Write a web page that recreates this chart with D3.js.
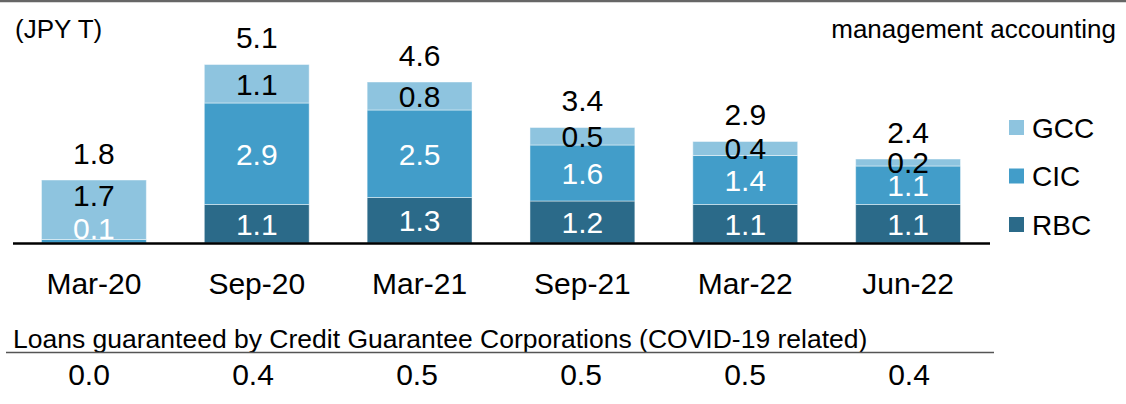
<!DOCTYPE html>
<html>
<head>
<meta charset="utf-8">
<script src="https://cdn.jsdelivr.net/npm/d3@7"></script>
<style>
  body { margin: 0; background: #fff; }
  svg text { font-family: Arial, "Liberation Sans", sans-serif; fill: #000; }
</style>
</head>
<body>
<div id="chart"></div>
<script>
// data
var periods = ["Mar-20", "Sep-20", "Mar-21", "Sep-21", "Mar-22", "Jun-22"];
var seriesNames = ["RBC", "CIC", "GCC"];
var rbc = [0, 1.1, 1.3, 1.2, 1.1, 1.1];
var cic = [0.1, 2.9, 2.5, 1.6, 1.4, 1.1];
var gcc = [1.7, 1.1, 0.8, 0.5, 0.4, 0.2];
var totals = [1.8, 5.1, 4.6, 3.4, 2.9, 2.4];
var guaranteed = [0.0, 0.4, 0.5, 0.5, 0.5, 0.4];

var svgWidth = 1126;
var svgHeight = 404;
var baseY = 243;

var colors = { RBC: "#2b6a89", CIC: "#429dc9", GCC: "#8ec4df" };
var labelColors = { RBC: "#fff", CIC: "#fff", GCC: "#000" };

var svg = d3.select("#chart")
  .append("svg")
  .attr("width", svgWidth)
  .attr("height", svgHeight);

var rows = periods.map(function(p, i) {
  return { period: p, RBC: rbc[i], CIC: cic[i], GCC: gcc[i], total: totals[i] };
});

var stack = d3.stack().keys(seriesNames)(rows);

var x = d3.scaleBand()
  .domain(periods)
  .range([12.5, 989.5])
  .paddingInner(0.356)
  .paddingOuter(0.178);

var y = d3.scaleLinear()
  .domain([0, 6])
  .range([baseY, baseY - 210]);

// top rule
svg.append("line")
  .attr("x1", 0).attr("x2", svgWidth)
  .attr("y1", 1).attr("y2", 1)
  .attr("stroke", "#666")
  .attr("stroke-width", 2.5);

svg.append("text")
  .attr("x", 15).attr("y", 38)
  .style("font-size", "26px")
  .text("(JPY T)");

svg.append("text")
  .attr("x", 1116).attr("y", 38)
  .attr("text-anchor", "end")
  .style("font-size", "26px")
  .text("management accounting");

// bars
var layers = svg.append("g").selectAll("g")
  .data(stack)
  .enter()
  .append("g")
  .attr("fill", d => colors[d.key]);

layers.selectAll("rect")
  .data(d => d)
  .enter()
  .append("rect")
  .attr("x", d => x(d.data.period))
  .attr("width", x.bandwidth())
  .attr("y", d => y(d[1]))
  .attr("height", d => y(d[0]) - y(d[1]))
  .attr("stroke", "rgba(255,255,255,0.45)")
  .attr("stroke-width", 1);

// segment labels: centred, kept inside the bar, pushed up when the one below had to move
var labelH = 33.5;
var segLabels = [];
periods.forEach(function(p, i) {
  var prevY = null, prevMoved = false;
  stack.forEach(function(layer) {
    var d = layer[i];
    var v = d[1] - d[0];
    if (v <= 0) return;
    var cy = (y(d[0]) + y(d[1])) / 2;
    var moved = false;
    if (cy > baseY - 14.5) { cy = baseY - 14.5; moved = true; }
    if (prevY !== null && prevMoved && prevY - cy < labelH) cy = prevY - labelH;
    segLabels.push({ x: x(p) + x.bandwidth() / 2, y: cy, key: layer.key, v: v });
    prevY = cy;
    prevMoved = moved;
  });
});

svg.append("g").selectAll("text")
  .data(segLabels)
  .enter()
  .append("text")
  .attr("x", d => d.x)
  .attr("y", d => d.y)
  .attr("dy", "0.36em")
  .attr("text-anchor", "middle")
  .style("font-size", "30px")
  .style("fill", d => labelColors[d.key])
  .text(d => d3.format(".1f")(d.v));

// totals
svg.append("g").selectAll("text")
  .data(rows)
  .enter()
  .append("text")
  .attr("x", d => x(d.period) + x.bandwidth() / 2)
  .attr("y", d => y(d.RBC + d.CIC + d.GCC) - 27)
  .attr("dy", "0.36em")
  .attr("text-anchor", "middle")
  .style("font-size", "30px")
  .text(d => d3.format(".1f")(d.total));

// x axis
var xAxis = svg.append("g")
  .attr("transform", `translate(0, ${baseY})`)
  .call(d3.axisBottom(x).tickSize(0).tickSizeOuter(0).tickPadding(29.5));

xAxis.select(".domain")
  .attr("stroke", "#000")
  .attr("stroke-width", 2.5);

xAxis.selectAll("text")
  .style("font-size", "30px")
  .style("font-family", "Arial, 'Liberation Sans', sans-serif")
  .attr("fill", "#000");

// legend
var legend = svg.append("g")
  .selectAll("g")
  .data(seriesNames.slice().reverse())
  .enter()
  .append("g")
  .attr("transform", (d, i) => `translate(1009, ${120 + i * 48.5})`);

legend.append("rect")
  .attr("width", 15)
  .attr("height", 15)
  .attr("fill", d => colors[d]);

legend.append("text")
  .attr("x", 23)
  .attr("y", 7.5)
  .attr("dy", "0.36em")
  .style("font-size", "28px")
  .text(d => d);

// table below
svg.append("text")
  .attr("x", 13).attr("y", 348)
  .style("font-size", "26.5px")
  .text("Loans guaranteed by Credit Guarantee Corporations (COVID-19 related)");

svg.append("line")
  .attr("x1", 6).attr("x2", 994)
  .attr("y1", 352.5).attr("y2", 352.5)
  .attr("stroke", "#555")
  .attr("stroke-width", 1.5);

var xTable = d3.scalePoint()
  .domain(periods)
  .range([89, 909]);

svg.append("g").selectAll("text")
  .data(guaranteed)
  .enter()
  .append("text")
  .attr("x", (d, i) => xTable(periods[i]))
  .attr("y", 385)
  .attr("text-anchor", "middle")
  .style("font-size", "30px")
  .text(d => d3.format(".1f")(d));
</script>
</body>
</html>
